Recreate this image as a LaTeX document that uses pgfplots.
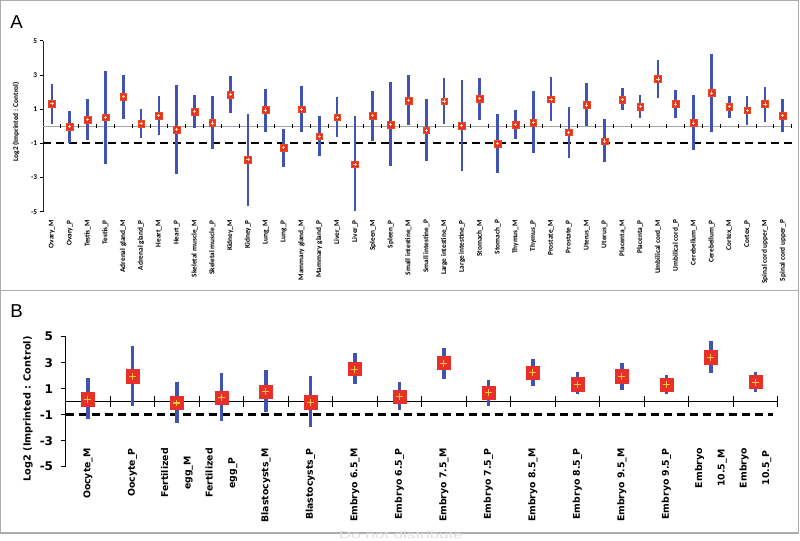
\documentclass[border=0pt]{standalone}
\usepackage{pgfplots}
\pgfplotsset{compat=1.18}
\usepackage{pgfplotstable}
\usepackage{fontspec}
\setmainfont{Liberation Sans}
\newfontfamily\carlito{Carlito}
\newfontfamily\dejavu{DejaVu Sans}
\definecolor{barblue}{RGB}{64,84,175}
\definecolor{mred}{RGB}{232,48,40}
\definecolor{myel}{RGB}{245,200,60}
\definecolor{mpale}{RGB}{255,225,170}

\pgfplotstableread{
x m lo hi
0 1.32 0.13 2.46
1 -0.03 -0.96 0.89
2 0.40 -0.83 1.61
3 0.52 -2.21 3.25
4 1.73 0.44 3.01
5 0.15 -0.71 1.02
6 0.63 -0.52 1.78
7 -0.19 -2.78 2.39
8 0.85 -0.09 1.82
9 0.19 -1.35 1.78
10 1.86 0.77 2.91
11 -1.96 -4.65 0.71
12 0.95 -0.32 2.19
13 -1.26 -2.39 -0.17
14 1.00 -0.36 2.37
15 -0.58 -1.74 0.61
16 0.52 -0.61 1.69
17 -2.23 -4.98 0.57
18 0.61 -0.85 2.06
19 0.09 -2.35 2.58
20 1.51 0.07 3.01
21 -0.24 -2.04 1.57
22 1.47 0.15 2.80
23 0.03 -2.64 2.70
24 1.61 0.36 2.82
25 -1.02 -2.74 0.71
26 0.09 -0.73 0.96
27 0.22 -1.59 2.08
28 1.57 0.32 2.86
29 -0.36 -1.86 1.10
30 1.24 0.03 2.50
31 -0.87 -2.12 0.40
32 1.55 0.93 2.21
33 1.14 0.46 1.82
34 2.76 1.63 3.89
35 1.30 0.50 2.11
36 0.19 -1.41 1.80
37 1.94 -0.32 4.22
38 1.14 0.50 1.78
39 0.93 0.05 1.75
40 1.30 0.24 2.31
41 0.63 -0.32 1.59
}\tissues

\pgfplotstableread{
x m lo hi
0 0.18 -1.36 1.79
1 1.95 -0.31 4.28
2 -0.10 -1.62 1.51
3 0.31 -1.46 2.18
4 0.77 -0.79 2.46
5 -0.05 -1.95 2.00
6 2.51 1.38 3.72
7 0.38 -0.64 1.54
8 2.97 1.77 4.15
9 0.67 -0.33 1.67
10 2.21 1.21 3.26
11 1.33 0.56 2.28
12 1.95 0.90 3.00
13 1.31 0.56 2.03
14 3.41 2.18 4.64
15 1.51 0.77 2.26
}\stages

\begin{document}
\begin{tikzpicture}
\useasboundingbox (0,0) rectangle (600pt,-405pt);
\fill[white] (0,0) rectangle (600pt,-405pt);
% frame
\draw[gray!65, line width=0.9pt] (0.6pt,-0.6pt) rectangle (599pt,-399.8pt);
\draw[gray!65, line width=0.9pt] (0.6pt,-217.9pt) -- (599pt,-217.9pt);
\node[anchor=base west, inner sep=0pt, font=\fontsize{14}{16}\selectfont] at (7.5pt,-21.2pt) {A};
\node[anchor=base west, inner sep=0pt, font=\fontsize{14}{16}\selectfont] at (7.5pt,-237.8pt) {B};
\node[anchor=base, inner sep=0pt, xscale=1.7, text=gray!25, font=\fontsize{7.5}{8}\selectfont] at (300.75pt,-403.6pt) {Do not distribute};

% ---------------- Panel A ----------------
\begin{axis}[
  at={(32.25pt,-158.775pt)}, anchor=south west,
  scale only axis, width=561.5pt, height=128.25pt,
  xmin=-0.5, xmax=41.5, ymin=-5, ymax=5,
  axis y line*=left, axis x line*=bottom,
  x axis line style={draw=none},
  y axis line style={-, black!85, line width=0.5pt},
  xtick={0,...,41},
  xticklabels={Ovary\_M, Ovary\_P, Testis\_M, Testis\_P, Adrenal gland\_M, Adrenal gland\_P, Heart\_M, Heart\_P, Skeletal muscle\_M, Skeletal muscle\_P, Kidney\_M, Kidney\_P, Lung\_M, Lung\_P, Mammary gland\_M, Mammary gland\_P, Liver\_M, Liver\_P, Spleen\_M, Spleen\_P, Small intestine\_M, Small intestine\_P, Large intestine\_M, Large intestine\_P, Stomach\_M, Stomach\_P, Thymus\_M, Thymus\_P, Prostate\_M, Prostate\_P, Uterus\_M, Uterus\_P, Placenta\_M, Placenta\_P, Umbilical cord\_M, Umbilical cord\_P, Cerebellum\_M, Cerebellum\_P, Cortex\_M, Cortex\_P, Spinal cord upper\_M, Spinal cord upper\_P},
  x tick style={draw=none},
  ytick={-5,-3,-1,1,3,5}, yticklabels={-5,-3,-1,1,3,5},
  y tick style={black, line width=0.5pt},
  tick align=outside, major tick length=2.3pt,
  xticklabel style={font=\carlito\bfseries\fontsize{5.5}{6}\selectfont, rotate=90, anchor=east, inner sep=0pt},
  xticklabel shift=3.8pt,
  yticklabel style={font=\carlito\bfseries\fontsize{5.5}{6}\selectfont, inner sep=0pt},
  yticklabel shift=2pt,
  ylabel={Log2 (Imprinted : Control)},
  every axis y label/.style={at={(axis description cs:-0.036,0.525)}, rotate=90, anchor=center, font=\carlito\bfseries\fontsize{5.5}{6}\selectfont},
  clip=false,
]
\addplot[gray!70, line width=0.6pt] coordinates {(-0.5,0) (41.5,0)};
\addplot[black, line width=1.5pt, dash pattern=on 6pt off 3.75pt] coordinates {(-0.5,-1) (41.5,-1)};
\addplot[only marks, mark=|, mark size=1.6pt, mark options={black, line width=0.6pt}] coordinates {
(0.5,0) (1.5,0) (2.5,0) (3.5,0) (4.5,0) (5.5,0) (6.5,0) (7.5,0) (8.5,0) (9.5,0)
(10.5,0) (11.5,0) (12.5,0) (13.5,0) (14.5,0) (15.5,0) (16.5,0) (17.5,0) (18.5,0) (19.5,0)
(20.5,0) (21.5,0) (22.5,0) (23.5,0) (24.5,0) (25.5,0) (26.5,0) (27.5,0) (28.5,0) (29.5,0)
(30.5,0) (31.5,0) (32.5,0) (33.5,0) (34.5,0) (35.5,0) (36.5,0) (37.5,0) (38.5,0) (39.5,0)
(40.5,0) (41.5,0)};
\addplot[only marks, mark=none, error bars/.cd, y dir=both, y explicit, error mark=none,
  error bar style={line width=2pt, barblue}]
  table[x=x, y=m, y error plus expr=\thisrow{hi}-\thisrow{m}, y error minus expr=\thisrow{m}-\thisrow{lo}] {\tissues};
\addplot[only marks, mark=square*, mark size=2.5pt, mark options={fill=mred, draw=mred!70!orange, line width=0.3pt}] table[x=x, y=m] {\tissues};
\addplot[only marks, mark=+, mark size=1.2pt, mark options={mpale, line width=0.6pt}] table[x=x, y=m] {\tissues};
\end{axis}

% ---------------- Panel B ----------------
\begin{axis}[
  at={(49.275pt,-350.0pt)}, anchor=south west,
  scale only axis, width=534pt, height=97.5pt,
  xmin=-0.5, xmax=15.5, ymin=-5, ymax=5,
  axis y line*=left, axis x line*=bottom,
  x axis line style={draw=none},
  y axis line style={-, black, line width=0.6pt},
  xtick={0,...,15},
  xticklabels={Oocyte\_M, Oocyte\_P, {Fertilized\\egg\_M}, {Fertilized\\egg\_P}, Blastocysts\_M, Blastocysts\_P, Embryo 6.5\_M, Embryo 6.5\_P, Embryo 7.5\_M, Embryo 7.5\_P, Embryo 8.5\_M, Embryo 8.5\_P, Embryo 9.5\_M, Embryo 9.5\_P, {Embryo\\10.5\_M}, {Embryo\\10.5\_P}},
  x tick style={draw=none},
  ytick={-5,-3,-1,1,3,5}, yticklabels={-5,-3,-1,1,3,5},
  y tick style={black, line width=0.6pt},
  tick align=outside, major tick length=3.75pt,
  xticklabel style={font=\dejavu\bfseries\fontsize{7}{17}\selectfont, rotate=90, anchor=east, inner sep=0pt, align=center},
  xticklabel shift=-17.8pt,
  yticklabel style={font=\dejavu\bfseries\fontsize{9}{10}\selectfont, inner sep=0pt},
  yticklabel shift=5.5pt,
  ylabel={Log2 (Imprinted : Control)},
  every axis y label/.style={at={(axis description cs:-0.053,0.444)}, rotate=90, anchor=center, font=\dejavu\bfseries\fontsize{7.3}{8}\selectfont},
  clip=false,
]
\addplot[black, line width=0.7pt] coordinates {(-0.5,0) (15.5,0)};
\addplot[black, line width=2.2pt, dash pattern=on 6pt off 3.75pt] coordinates {(-0.5,-1) (15.4,-1)};
\addplot[only marks, mark=|, mark size=4.2pt, mark options={black, line width=0.7pt}] coordinates {
(0.5,0) (1.5,0) (2.5,0) (3.5,0) (4.5,0) (5.5,0) (6.5,0) (7.5,0) (8.5,0) (9.5,0)
(10.5,0) (11.5,0) (12.5,0) (13.5,0) (14.5,0) (15.5,0)};
\addplot[only marks, mark=none, error bars/.cd, y dir=both, y explicit, error mark=none,
  error bar style={line width=2.6pt, barblue}]
  table[x=x, y=m, y error plus expr=\thisrow{hi}-\thisrow{m}, y error minus expr=\thisrow{m}-\thisrow{lo}] {\stages};
\addplot[only marks, mark=square*, mark size=5pt, mark options={fill=mred, draw=mred}] table[x=x, y=m] {\stages};
\addplot[only marks, mark=+, mark size=2.6pt, mark options={myel, line width=0.8pt}] table[x=x, y=m] {\stages};
\end{axis}
\end{tikzpicture}
\end{document}
